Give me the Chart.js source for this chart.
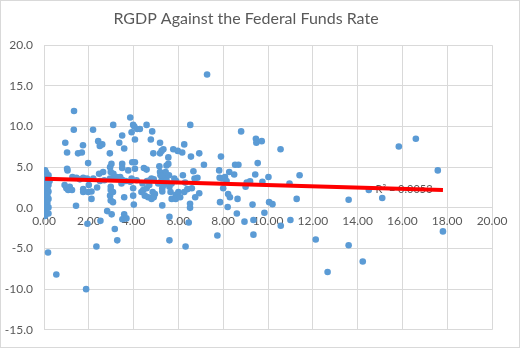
<!DOCTYPE html>
<html>
<head>
<meta charset="utf-8">
<script src="https://cdn.jsdelivr.net/npm/chart.js@4"></script>
<style>
  html, body { margin: 0; padding: 0; background: #ffffff; }
  #wrap { width: 520px; height: 348px; }
</style>
</head>
<body>
<div id="wrap"><canvas id="myChart" width="520" height="348"></canvas></div>
<script>
// federal funds rate (x) and RGDP growth (y)
const fedFundsRate = [
  0.05, 0.1, 0.2, 0.15, 0.05, 0.25, 0.1, 0.2, 0.05, 0.15, 0.1, 0.2, 0.05, 0.15, 0.1, 0.2, 0.05, 0.15, 0.1, 0.2, 0.1, 0.2, 0.05, 0.18, 0.55,
  0.95, 1.03, 1.03, 1.05, 0.92, 1.0, 1.08, 1.15,
  1.34, 1.33, 1.27, 1.25, 1.43, 1.45,
  1.52, 1.69, 1.74, 1.75, 1.75, 1.75, 1.92, 1.97, 1.97, 1.94, 1.88, 1.6, 2.0,
  2.12, 2.12, 2.19, 2.37, 2.42, 2.34, 2.49, 2.6, 2.46, 2.52, 2.64, 2.69, 2.2, 2.5,
  2.82, 2.94, 3.01, 2.95, 2.98, 2.95, 2.98, 2.98, 2.95, 2.98, 3.09, 3.08, 3.08, 3.02, 3.16, 3.27, 3.15, 3.25, 3.1,
  3.36, 3.49, 3.49, 3.49, 3.49, 3.46, 3.58, 3.58, 3.58, 3.58, 3.5, 3.68, 3.76, 3.4, 3.65,
  3.85, 3.91, 3.98, 4.03, 4.06, 4.16, 4.28, 3.94, 4.06, 4.06, 3.91, 3.98, 3.98, 4.01, 4.13, 3.85,
  4.35, 4.43, 4.58, 4.46, 4.58, 4.5, 4.58, 4.65, 4.73, 4.77, 4.83, 4.88, 4.8, 4.85, 4.8, 4.95, 4.9, 4.4, 4.6, 4.7, 4.9,
  5.15, 5.18, 5.18, 5.25, 5.33, 5.18, 5.25, 5.28, 5.28, 5.28, 5.4, 5.43, 5.47, 5.47, 5.1, 5.35, 5.2,
  5.55, 5.55, 5.58, 5.6, 5.6, 5.65, 5.7, 5.77, 5.82, 5.88, 5.88, 5.97, 6.0, 6.08, 5.7, 5.9, 5.6,
  6.17, 6.2, 6.26, 6.26, 6.32, 6.46, 6.52, 6.52, 6.53, 6.56, 6.6, 6.3, 6.4,
  6.67, 6.72, 6.75, 6.85, 6.93, 6.93, 7.14, 7.28,
  7.74, 7.86, 7.82, 7.84, 7.9, 7.95, 8.0, 8.08, 8.2, 8.22, 8.27, 8.3, 8.15,
  8.49, 8.53, 8.64, 8.61, 8.68, 8.8,
  8.95, 9.0, 9.05, 9.2, 9.31, 9.35, 9.35, 9.43, 9.46, 9.48, 9.54,
  9.72, 9.75, 9.84, 10.02, 10.05, 10.2, 10.56, 10.57,
  10.96, 11.0, 11.28, 11.41,
  12.13, 12.66, 13.6, 13.6, 14.23, 14.5, 15.1, 15.84, 16.6, 17.58, 17.81
];
const rgdpGrowth = [
  4.6, 4.3, 4.0, 3.8, 3.5, 3.3, 3.0, 2.8, 2.6, 2.4, 2.2, 2.0, 1.8, 1.6, 1.3, 1.1, 0.9, 0.6, 0.3, 0.05, -0.3, -0.7, -1.0, -5.5, -8.2,
  8.0, 6.8, 4.8, 4.6, 2.8, 2.4, 2.2, 2.6,
  11.9, 9.6, 3.8, 2.2, 0.25, 3.7,
  6.7, 6.8, 7.7, 3.7, 2.3, 1.95, 3.6, 5.5, 1.95, -1.95, -10.0, 3.5, 2.8,
  2.0, 1.1, 9.6, 2.5, 8.2, -4.75, 7.6, 7.8, 4.2, -1.6, 4.4, 3.4, 3.6, 3.3,
  -0.4, 6.7, 5.4, 5.0, 4.4, 3.6, 2.6, 2.2, 1.5, 0.9, 10.2, 1.95, 0.7, -0.8, -2.6, -4.0, 3.8, 3.8, 4.2,
  8.0, 8.9, 5.4, 4.9, 3.45, 3.0, 7.3, 1.3, -0.8, -1.3, -1.4, -1.3, 4.6, 3.8, 3.3,
  11.1, 9.3, 10.2, 10.0, 8.4, 9.7, 9.7, 5.6, 5.6, 4.8, 3.6, 2.4, 1.5, 0.4, 3.4, 3.2,
  1.95, 2.2, 10.2, 4.9, 4.7, 1.5, 2.4, 1.3, 3.4, 8.4, 9.4, 6.7, 3.6, 1.95, 1.1, 1.7, 1.3, 3.0, 3.3, 2.8, 3.5,
  5.1, 6.7, 8.0, 7.0, 7.2, 4.4, 3.4, 2.4, 2.0, 0.3, 3.8, 4.4, 5.2, 3.4, 3.0, 2.8, 4.0,
  6.2, 5.4, 4.0, -1.1, -4.0, 1.95, 1.1, 7.2, 3.6, 1.6, 1.1, 7.0, 1.95, 1.3, 3.0, 3.3, 2.6,
  6.8, 4.0, 7.8, 1.95, -4.75, -1.8, 0.5, 0.0, 10.2, 6.3, 2.4, 3.1, 2.3,
  4.5, 3.6, 1.3, 3.7, 6.7, 1.8, 5.3, 16.4,
  -3.4, 0.7, 4.6, 3.7, 6.3, 3.6, 2.4, 3.8, 0.1, 1.7, 4.4, 1.3, 3.3,
  4.1, 5.3, 1.1, -0.7, 5.3, 9.4,
  -1.7, 2.6, 3.1, 3.25, 0.4, -1.5, -3.3, 4.1, 8.5, 8.0, 5.5,
  8.2, 3.2, -0.6, 3.8, 0.7, 0.45, 7.2, -2.2,
  3.0, -1.5, 1.1, 4.0,
  -3.9, -7.9, 1.0, -4.6, -6.6, 2.2, 1.2, 7.55, 8.5, 4.6, -2.9
];

// linear trendline ends as drawn
const trendX = [0.05, 17.81];
const trendY = [3.57, 2.2];
const rSquaredText = 'R\u00B2 = 0.0053';
const rSquaredAt = {x: 14.8, y: 2.25};

const xTicks = [0, 2, 4, 6, 8, 10, 12, 14, 16, 18, 20];
const yTicks = [-15, -10, -5, 0, 5, 10, 15, 20];

const textColor = '#595959';
const gridColor = '#d9d9d9';
const fontFamily = 'Lato, "Open Sans", sans-serif';

const points = fedFundsRate.map((x, i) => ({x: x, y: rgdpGrowth[i]}));
const trendPoints = trendX.map((x, i) => ({x: x, y: trendY[i]}));

const extras = {
    id: 'extras',
    beforeDraw(chart) {
        const c = chart.ctx;
        c.save();
        c.fillStyle = '#ffffff';
        c.fillRect(0, 0, chart.width, chart.height);
        c.restore();
    },
    beforeDatasetsDraw(chart) {
        const c = chart.ctx;
        const xs = chart.scales.x;
        const ys = chart.scales.y;
        c.save();
        c.font = '11px ' + fontFamily;
        c.fillStyle = textColor;
        c.textBaseline = 'middle';
        c.textAlign = 'left';
        c.fillText(rSquaredText, xs.getPixelForValue(rSquaredAt.x), ys.getPixelForValue(rSquaredAt.y));
        c.restore();
    },
    afterDraw(chart) {
        const c = chart.ctx;
        c.save();
        c.strokeStyle = gridColor;
        c.lineWidth = 1;
        c.strokeRect(0.5, 0.5, chart.width - 1, chart.height - 1);
        c.restore();
    }
};

new Chart(document.getElementById('myChart').getContext('2d'), {
    type: 'scatter',
    data: {
        datasets: [
            {
                type: 'line',
                data: trendPoints,
                borderColor: '#ff0000',
                borderWidth: 4,
                pointRadius: 0,
                fill: false,
                order: 0
            },
            {
                data: points,
                backgroundColor: '#5b9bd5',
                borderWidth: 0,
                pointRadius: 3.3,
                order: 1
            }
        ]
    },
    options: {
        responsive: false,
        animation: false,
        devicePixelRatio: 1,
        layout: {padding: {left: 0, right: 28, top: 0, bottom: 5}},
        plugins: {
            legend: {display: false},
            tooltip: {enabled: false},
            title: {
                display: true,
                text: 'RGDP Against the Federal Funds Rate',
                color: textColor,
                font: {family: fontFamily, size: 16, weight: 'normal'},
                padding: {top: 9, bottom: 17}
            }
        },
        scales: {
            x: {
                type: 'linear',
                position: {y: 0},
                min: 0,
                max: 20,
                afterBuildTicks: axis => { axis.ticks = xTicks.map(v => ({value: v})); },
                ticks: {
                    color: textColor,
                    font: {family: fontFamily, size: 12},
                    padding: 6,
                    maxRotation: 0,
                    callback: v => v.toFixed(2)
                },
                grid: {color: gridColor, drawTicks: false},
                border: {color: gridColor}
            },
            y: {
                type: 'linear',
                min: -15,
                max: 20,
                afterBuildTicks: axis => { axis.ticks = yTicks.map(v => ({value: v})); },
                afterFit: axis => { axis.width = 44; },
                ticks: {
                    color: textColor,
                    font: {family: fontFamily, size: 12},
                    padding: 11,
                    callback: v => v.toFixed(1)
                },
                grid: {color: gridColor, drawTicks: false},
                border: {color: gridColor}
            }
        }
    },
    plugins: [extras]
});
</script>
</body>
</html>
